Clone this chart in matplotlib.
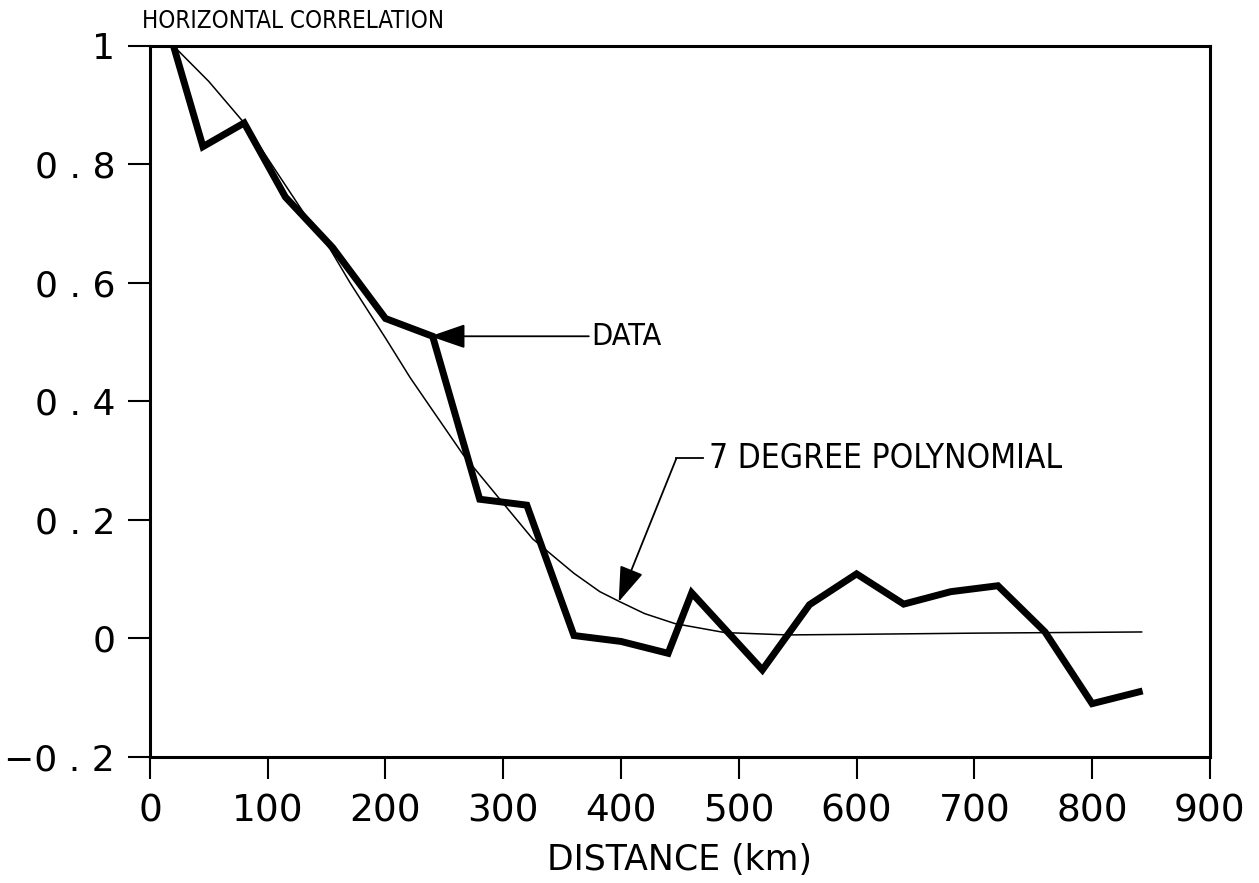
import matplotlib
matplotlib.use("Agg")
import matplotlib.pyplot as plt
from matplotlib import rcParams

rcParams["font.family"] = ["DejaVu Sans"]

# measured correlation vs distance
dist = [20, 45, 80, 115, 155, 200, 240, 280, 320, 360, 400, 440, 460,
        520, 560, 600, 640, 680, 720, 760, 800, 840]
corr = [1.0, 0.83, 0.87, 0.745, 0.66, 0.54, 0.51, 0.235, 0.225, 0.005,
        -0.005, -0.025, 0.077, -0.053, 0.057, 0.109, 0.058, 0.079, 0.089,
        0.011, -0.11, -0.09]

# fitted 7 degree polynomial
fit_x = [20, 50, 80, 100, 130, 153, 170, 200, 221, 240, 266, 300, 325,
         360, 382, 399, 420, 446, 488, 541, 600, 700, 842]
fit_y = [1.0, 0.94, 0.87, 0.81, 0.72, 0.657, 0.60, 0.507, 0.44, 0.385,
         0.31, 0.228, 0.168, 0.11, 0.079, 0.062, 0.042, 0.025, 0.01,
         0.006, 0.007, 0.009, 0.011]

yticks = [-0.2, 0, 0.2, 0.4, 0.6, 0.8, 1]
ylabels = ["\u22120 . 2", "0", "0 . 2", "0 . 4", "0 . 6", "0 . 8", "1"]
xticks = [0, 100, 200, 300, 400, 500, 600, 700, 800, 900]

fig = plt.figure(figsize=(12.59, 8.83), dpi=100)
ax = fig.add_axes([0.1191, 0.1427, 0.8419, 0.8053])

ax.plot(fit_x, fit_y, color="black", lw=1.1)
ax.plot(dist, corr, color="black", lw=5, solid_joinstyle="miter")

ax.set_xlim(0, 900)
ax.set_ylim(-0.2, 1)
ax.set_xticks(xticks)
ax.set_yticks(yticks)
ax.set_yticklabels(ylabels)
for s in ax.spines.values():
    s.set_linewidth(2.2)
ax.tick_params(direction="out", length=16, width=1.5, labelsize=27, pad=10)
ax.tick_params(axis="y", pad=9, labelsize=26)

cond = dict(family="DejaVu Sans", fontstretch="condensed")
arrow = dict(arrowstyle="-|>,head_length=1.1,head_width=0.38", color="black",
             lw=1.3, shrinkA=0, shrinkB=0, mutation_scale=20)
ax.annotate("DATA", xy=(238, 0.51), xytext=(375, 0.51), fontsize=22,
            va="center", ha="left", arrowprops=arrow, **cond)
ax.annotate("", xy=(398, 0.062), xytext=(447, 0.304), arrowprops=arrow)
ax.plot([447, 470], [0.304, 0.304], color="black", lw=1.3)
ax.text(475, 0.304, "7 DEGREE POLYNOMIAL", fontsize=24,
        va="center", ha="left", **cond)

fig.text(0.113, 0.976, "HORIZONTAL CORRELATION", fontsize=17.3,
         va="center", ha="left", **cond)
ax.set_xlabel("DISTANCE (km)", fontsize=25, labelpad=10)

fig.savefig("out.png", dpi=100)
